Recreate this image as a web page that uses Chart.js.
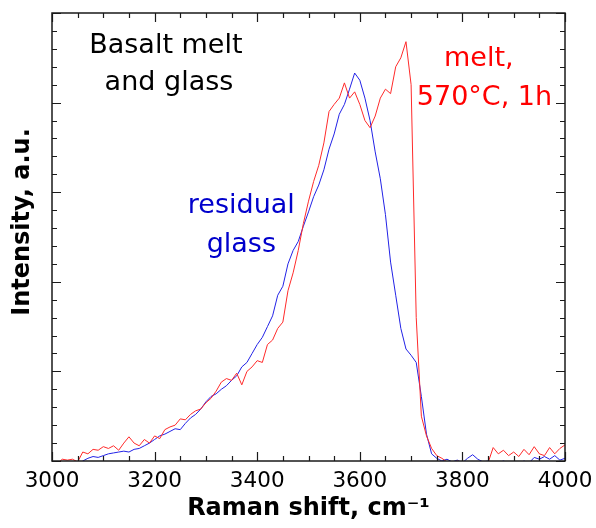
<!DOCTYPE html>
<html>
<head>
<meta charset="utf-8">
<script src="https://cdn.jsdelivr.net/npm/chart.js@4/dist/chart.umd.min.js"></script>
<style>
	html, body { margin: 0; padding: 0; background: #fff; }
	#wrap { width: 596px; height: 528px; }
</style>
</head>
<body>
<div id="wrap"><canvas id="chart" width="596" height="528"></canvas></div>
<script>
// DATA
const ramanShift = [];
for (let v = 3000; v <= 4000; v += 10) ramanShift.push(v);

const meltIntensity = [
	-0.05, -0.03, 0.02, 0.01, 0.02, -0.01, 0.10, 0.08, 0.13, 0.12,
	0.16, 0.14, 0.17, 0.12, 0.20, 0.27, 0.20, 0.17, 0.24, 0.20,
	0.28, 0.25, 0.35, 0.38, 0.40, 0.47, 0.46, 0.52, 0.56, 0.58,
	0.65, 0.70, 0.78, 0.88, 0.92, 0.90, 0.98, 0.85, 1.00, 1.05,
	1.12, 1.10, 1.30, 1.35, 1.48, 1.55, 1.90, 2.10, 2.35, 2.65,
	2.90, 3.12, 3.30, 3.55, 3.90, 3.98, 4.05, 4.22, 4.05, 4.12,
	3.98, 3.80, 3.72, 3.85, 4.05, 4.15, 4.10, 4.40, 4.50, 4.68,
	4.20, 1.60, 0.50, 0.28, 0.14, 0.06, 0.03, -0.01, -0.02, 0.00,
	-0.02, -0.03, -0.01, -0.02, -0.04, -0.02, 0.15, 0.08, 0.12, 0.06,
	0.10, 0.05, 0.13, 0.07, 0.16, 0.08, 0.06, 0.15, 0.08, 0.14,
	0.18,
];

const glassIntensity = [
	-0.05, -0.05, -0.05, -0.05, -0.05, -0.05, 0.00, 0.03, 0.05, 0.04,
	0.06, 0.08, 0.09, 0.10, 0.11, 0.10, 0.13, 0.14, 0.17, 0.20,
	0.24, 0.28, 0.30, 0.33, 0.36, 0.35, 0.42, 0.48, 0.52, 0.58,
	0.66, 0.72, 0.75, 0.80, 0.84, 0.90, 0.95, 1.05, 1.10, 1.20,
	1.30, 1.38, 1.50, 1.62, 1.85, 1.95, 2.20, 2.35, 2.45, 2.62,
	2.78, 2.95, 3.08, 3.25, 3.48, 3.65, 3.87, 3.98, 4.15, 4.33,
	4.25, 4.05, 3.80, 3.45, 3.15, 2.75, 2.22, 1.85, 1.48, 1.25,
	1.18, 1.10, 0.72, 0.30, 0.08, 0.03, 0.00, 0.02, -0.01, 0.01,
	-0.02, 0.03, 0.07, 0.02, -0.01, 0.00, -0.03, -0.02, 0.00, -0.02,
	-0.01, -0.03, 0.00, -0.02, 0.04, 0.02, 0.05, 0.02, 0.06, 0.01,
	0.03,
];

const xTickLabels = [3000, 3200, 3400, 3600, 3800, 4000];

const FONT = "'DejaVu Sans', sans-serif";
const RED = "#ff2a2a";
const BLUE = "#2222e6";

// inward ticks on all four sides + frame + text notes
const framePlugin = {
	id: "frame",
	afterDatasetsDraw(chart) {
		const { ctx, chartArea: a, scales: { x, y } } = chart;
		ctx.save();
		ctx.strokeStyle = "#1a1a1a";
		ctx.lineWidth = 1.2;
		ctx.beginPath();
		for (let v = x.min; v <= x.max + 1e-6; v += 50) {
			const px = Math.round(x.getPixelForValue(v)) + 0.5;
			const len = v % 200 === 0 ? 9 : 5;
			ctx.moveTo(px, a.bottom); ctx.lineTo(px, a.bottom - len);
			ctx.moveTo(px, a.top); ctx.lineTo(px, a.top + len);
		}
		for (let i = 0; i <= 25; i++) {
			const v = i * 0.2;
			const py = Math.round(y.getPixelForValue(v)) + 0.5;
			const len = i % 5 === 0 ? 9 : 5;
			ctx.moveTo(a.left, py); ctx.lineTo(a.left + len, py);
			ctx.moveTo(a.right, py); ctx.lineTo(a.right - len, py);
		}
		ctx.stroke();
		ctx.lineWidth = 1.5;
		ctx.strokeRect(a.left, a.top, a.right - a.left, a.bottom - a.top);

		// y title, sits a little above the middle of the axis like the original
		ctx.save();
		ctx.translate(23, (a.top + a.bottom) / 2 - 15);
		ctx.rotate(-Math.PI / 2);
		ctx.font = `bold 24px ${FONT}`;
		ctx.fillStyle = "#000";
		ctx.textAlign = "center";
		ctx.textBaseline = "middle";
		ctx.fillText("Intensity, a.u.", 0, 0);
		ctx.restore();

		const note = (text, xv, yv, color) => {
			ctx.fillStyle = color;
			ctx.fillText(text, x.getPixelForValue(xv), y.getPixelForValue(yv));
		};
		ctx.font = `27px ${FONT}`;
		ctx.textAlign = "center";
		ctx.textBaseline = "alphabetic";
		note("Basalt melt", 3222, 4.55, "#000");
		note("and glass", 3228, 4.14, "#000");
		note("melt,", 3832, 4.41, "#ff0000");
		note("570°C, 1h", 3843, 3.97, "#ff0000");
		note("residual", 3369, 2.77, "#0000cc");
		note("glass", 3369, 2.33, "#0000cc");
		ctx.restore();
	},
};

const ctx = document.getElementById("chart").getContext("2d");
new Chart(ctx, {
	type: "line",
	data: {
		datasets: [
			{
				label: "melt, 570°C, 1h",
				data: ramanShift.map((v, i) => ({ x: v, y: meltIntensity[i] })),
				borderColor: RED,
				borderWidth: 1,
				pointRadius: 0,
			},
			{
				label: "residual glass",
				data: ramanShift.map((v, i) => ({ x: v, y: glassIntensity[i] })),
				borderColor: BLUE,
				borderWidth: 1,
				pointRadius: 0,
			},
		],
	},
	options: {
		responsive: false,
		animation: false,
		layout: { padding: { left: 0, right: 31, top: 13, bottom: 0 } },
		plugins: { legend: { display: false }, tooltip: { enabled: false } },
		scales: {
			x: {
				type: "linear",
				min: 3000,
				max: 4000,
				afterBuildTicks: (scale) => {
					scale.ticks = xTickLabels.map((v) => ({ value: v }));
				},
				afterFit: (scale) => {
					scale.height = 67;
					scale.paddingLeft = 20;
					scale.paddingRight = 20;
				},
				grid: { display: false, drawTicks: false },
				border: { display: false },
				ticks: {
					padding: 8,
					color: "#000",
					font: { family: FONT, size: 21.5 },
					maxRotation: 0,
					callback: (v) => String(v),
				},
				title: {
					display: true,
					text: "Raman shift, cm⁻¹",
					color: "#000",
					font: { family: FONT, size: 24, weight: "bold" },
					padding: { top: 0, bottom: 5 },
				},
			},
			y: {
				min: 0,
				max: 5,
				afterFit: (scale) => { scale.width = 52; },
				grid: { display: false, drawTicks: false },
				border: { display: false },
				ticks: { display: false },
				title: { display: false },
			},
		},
	},
	plugins: [framePlugin],
});
</script>
</body>
</html>
